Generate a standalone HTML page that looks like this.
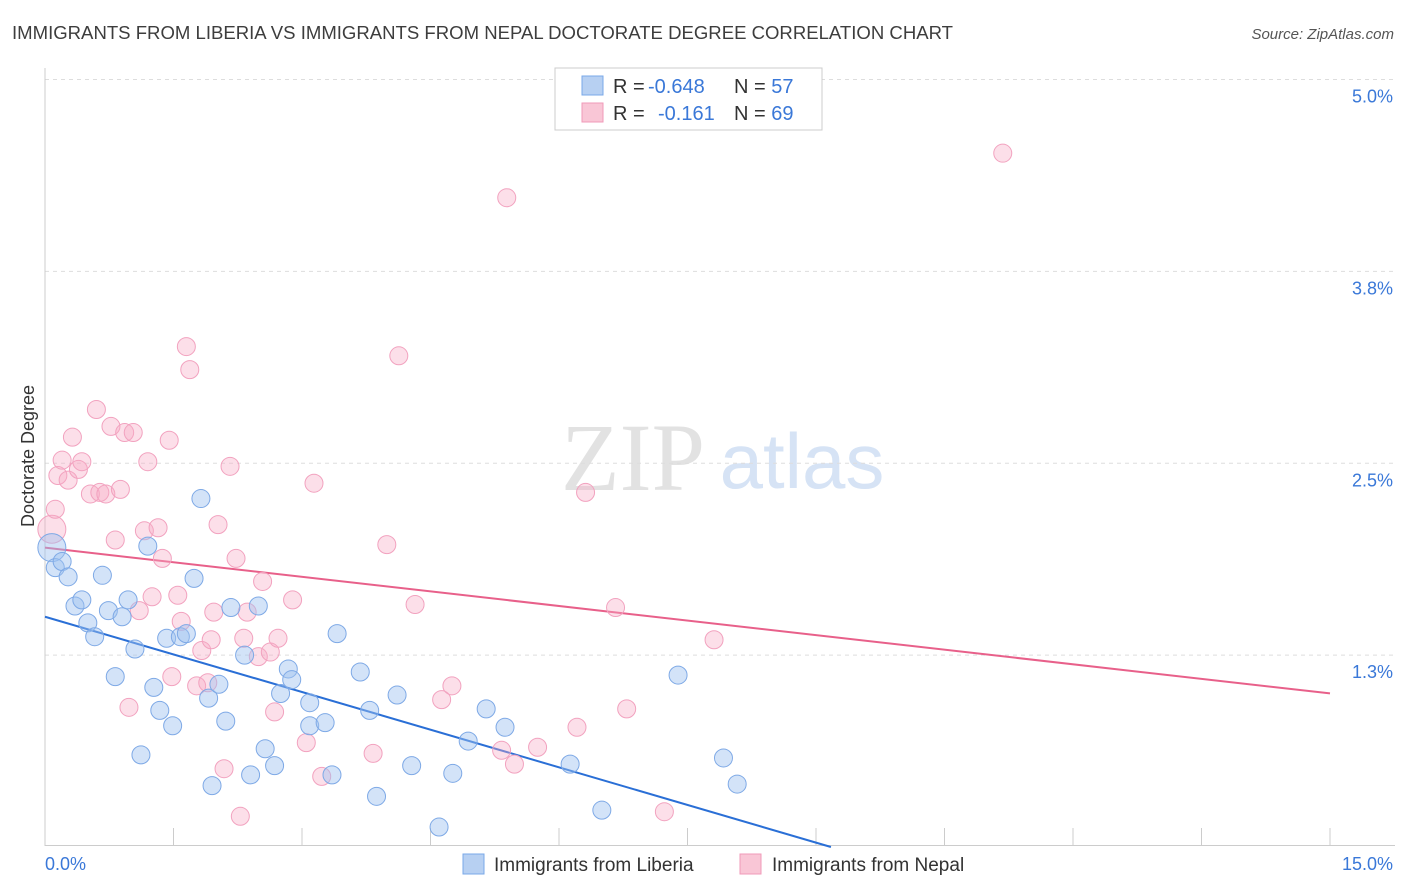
<!DOCTYPE html>
<html><head><meta charset="utf-8"><style>
body{margin:0;background:#fff;font-family:"Liberation Sans",sans-serif;}
svg{display:block}
</style></head><body>
<svg id="chart" width="1406" height="892">
<text x="12" y="39" font-size="18" fill="#3d3d3d" textLength="941" lengthAdjust="spacingAndGlyphs">IMMIGRANTS FROM LIBERIA VS IMMIGRANTS FROM NEPAL DOCTORATE DEGREE CORRELATION CHART</text>
<text x="1394" y="39" font-size="15" font-style="italic" fill="#555" text-anchor="end">Source: ZipAtlas.com</text>
<g>
<text x="633" y="490" font-size="96" font-family="Liberation Serif,serif" fill="#e2e2e2" text-anchor="middle">ZIP</text>
<text x="802" y="488" font-size="78" fill="#d6e3f5" text-anchor="middle">atlas</text>
</g>
<g id="grid"></g>
<g id="axes"></g>
<g id="trends"></g>
<g id="points"></g>
<text transform="translate(34,456) rotate(-90)" font-size="18" fill="#333" text-anchor="middle">Doctorate Degree</text>
<g>
<rect x="555" y="68" width="267" height="62" fill="#fff" stroke="#ccc"/>
<rect x="582" y="76" width="21" height="19" fill="#b7d0f2" stroke="#7aa8e8"/>
<rect x="582" y="103" width="21" height="19" fill="#f9c6d6" stroke="#f09ab8"/>
<text x="613" y="93" font-size="20" fill="#333">R = <tspan x="648" fill="#3a78d8">-0.648</tspan><tspan x="734">N = </tspan><tspan fill="#3a78d8">57</tspan></text>
<text x="613" y="120" font-size="20" fill="#333">R = <tspan x="658" fill="#3a78d8">-0.161</tspan><tspan x="734">N = </tspan><tspan fill="#3a78d8">69</tspan></text>
</g>
<g>
<rect x="463" y="854" width="21" height="20" fill="#b7d0f2" stroke="#7aa8e8"/>
<text x="494" y="871" font-size="19" fill="#333">Immigrants from Liberia</text>
<rect x="740" y="854" width="21" height="20" fill="#f9c6d6" stroke="#f09ab8"/>
<text x="772" y="871" font-size="19" fill="#333">Immigrants from Nepal</text>
</g>
</svg>
<script>
const yTicks=[1.25,2.5,3.75,5.0];
const yTickLabels=["1.3%","2.5%","3.8%","5.0%"];
const xTickCount=10;
const liberiaX=[0.08,0.12,0.20,0.27,0.35,0.43,0.50,0.58,0.67,0.74,0.82,0.90,0.97,1.05,1.12,1.20,1.27,1.34,1.42,1.49,1.58,1.65,1.74,1.82,1.91,1.95,2.03,2.11,2.17,2.33,2.40,2.49,2.57,2.68,2.75,2.84,2.88,3.09,3.09,3.27,3.35,3.41,3.68,3.79,3.87,4.11,4.28,4.60,4.76,4.94,5.15,5.37,6.13,6.50,7.39,7.92,8.08];
const liberiaY=[1.95,1.82,1.86,1.76,1.57,1.61,1.46,1.37,1.77,1.54,1.11,1.50,1.61,1.29,0.60,1.96,1.04,0.89,1.36,0.79,1.37,1.39,1.75,2.27,0.97,0.40,1.06,0.82,1.56,1.25,0.47,1.57,0.64,0.53,1.00,1.16,1.09,0.94,0.79,0.81,0.47,1.39,1.14,0.89,0.33,0.99,0.53,0.13,0.48,0.69,0.90,0.78,0.54,0.24,1.12,0.58,0.41];
const nepalX=[0.08,0.12,0.15,0.20,0.27,0.32,0.39,0.43,0.53,0.60,0.64,0.71,0.77,0.82,0.88,0.93,1.03,0.98,1.10,1.16,1.20,1.25,1.32,1.37,1.45,1.48,1.55,1.59,1.65,1.69,1.77,1.83,1.90,1.94,1.97,2.02,2.09,2.16,2.23,2.28,2.32,2.36,2.49,2.54,2.63,2.68,2.72,2.89,3.05,3.14,3.23,3.83,4.13,3.99,4.32,4.63,4.75,5.33,5.39,5.48,5.75,6.21,6.31,6.66,6.79,7.23,7.81,11.18];
const nepalY=[2.07,2.20,2.42,2.52,2.39,2.67,2.46,2.51,2.30,2.85,2.31,2.30,2.74,2.00,2.33,2.70,2.70,0.91,1.54,2.06,2.51,1.63,2.08,1.88,2.65,1.11,1.64,1.47,3.26,3.11,1.05,1.28,1.07,1.35,1.53,2.10,0.51,2.48,1.88,0.20,1.36,1.53,1.24,1.73,1.27,0.88,1.36,1.61,0.68,2.37,0.46,0.61,3.20,1.97,1.58,0.96,1.05,0.63,4.23,0.54,0.65,0.78,2.31,1.56,0.90,0.23,1.35,4.52];
const liberiaTrend=[1.50,-0.1635];
const nepalTrend=[1.95,-0.0633];
const NS="http://www.w3.org/2000/svg";
const X0=45,X1=1330,XMAX=15,Y0=847,YSCALE=153.5;
function sx(v){return X0+v*(X1-X0)/XMAX;}
function sy(v){return Y0-v*YSCALE;}
function mk(tag,attrs,parent){const e=document.createElementNS(NS,tag);for(const k in attrs)e.setAttribute(k,attrs[k]);parent.appendChild(e);return e;}
const grid=document.getElementById('grid'),axes=document.getElementById('axes'),trends=document.getElementById('trends'),pts=document.getElementById('points');
yTicks.forEach((t,i)=>{
 const l=mk('line',{x1:45,x2:1395,y1:sy(t),y2:sy(t),stroke:'#ddd','stroke-dasharray':'4,4'},grid);
 
 
 const tx=mk('text',{x:1393,y:sy(t)+23,'font-size':18,fill:'#3a78d8','text-anchor':'end'},grid);
 tx.textContent=yTickLabels[i];
 
 
});
const ya=mk('line',{x1:45,x2:45,y1:68,y2:846,stroke:'#ccc'},axes);


const xa=mk('line',{x1:45,x2:1395,y1:845.5,y2:845.5,stroke:'#ccc'},axes);


for(let i=0;i<=xTickCount;i++){
 const x=sx(i*XMAX/xTickCount);
 const t=mk('line',{x1:x,x2:x,y1:828,y2:846,stroke:'#ccc'},axes);
 
 
}
const xl0=mk('text',{x:45,y:870,'font-size':18,fill:'#3a78d8'},axes);xl0.textContent='0.0%';


const xl1=mk('text',{x:1393,y:870,'font-size':18,fill:'#3a78d8','text-anchor':'end'},axes);xl1.textContent='15.0%';


function dots(X,Y,fill,stroke,name){
 X.forEach((x,i)=>{
  const r=i<1?14:9;
  const c=mk('circle',{cx:sx(x),cy:sy(Y[i]),r:r,fill:fill,stroke:stroke,'stroke-width':1},pts);
  
  
 });
}
dots(nepalX,nepalY,'rgba(246,170,196,0.38)','#f2a2bf','point-nepal');
dots(liberiaX,liberiaY,'rgba(158,193,240,0.45)','#7ea9e6','point-liberia');
let bx=Math.min(XMAX,-liberiaTrend[0]/liberiaTrend[1]);
const bl=mk('line',{x1:sx(0),y1:sy(liberiaTrend[0]),x2:sx(bx),y2:sy(liberiaTrend[0]+liberiaTrend[1]*bx),stroke:'#2a6fd6','stroke-width':2},trends);


const pl=mk('line',{x1:sx(0),y1:sy(nepalTrend[0]),x2:sx(XMAX),y2:sy(nepalTrend[0]+nepalTrend[1]*XMAX),stroke:'#e8608a','stroke-width':2},trends);


</script>
</body></html>
